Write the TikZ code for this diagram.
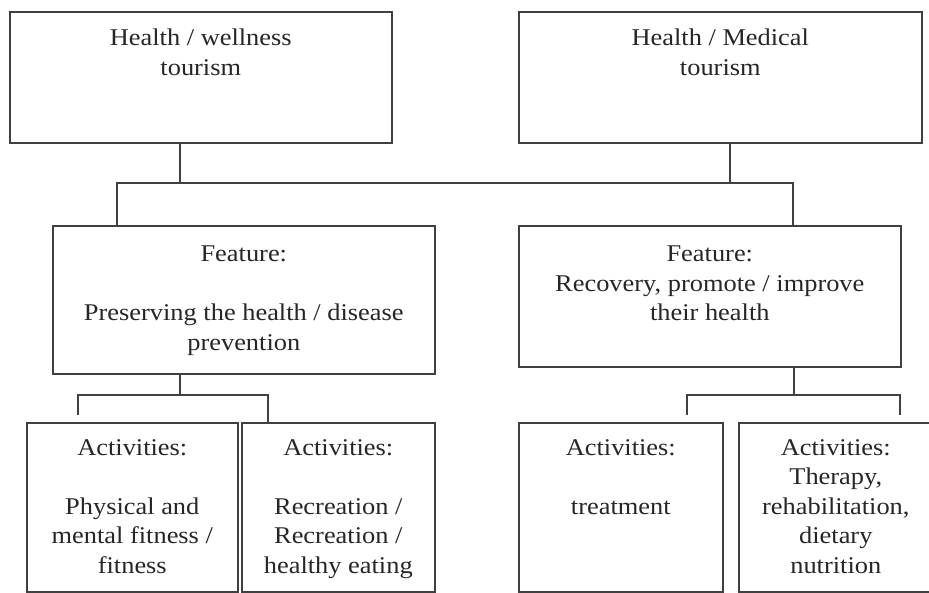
\documentclass[tikz,border=0pt]{standalone}
\usepackage{fontspec}
\setmainfont{Liberation Serif}[FakeStretch=1.1]
\usetikzlibrary{positioning}

\tikzset{
    box/.style={draw=black!75, line width=1.6pt, anchor=north west, inner sep=0pt},
    txt/.style={align=center, inner sep=0pt, text=black!85, font=\fontsize{24}{29.5}\selectfont},
    link/.style={draw=black!75, line width=1.6pt},
}

\begin{document}
\begin{tikzpicture}[x=1pt, y=-1pt]
            \useasboundingbox (0,0) rectangle (929,593);
            \clip (0,0) rectangle (929,593);

            % Top row - tourism types
            \node[box, minimum width=382pt, minimum height=131pt] (hw) at (9,11) {};
            \node[box, minimum width=403pt, minimum height=131pt] (hm) at (518,11) {};
            \node[txt, below=18pt of hw.north] (hwtxt) {Health / wellness\\tourism};
            \node[txt, below=18pt of hm.north] (hmtxt) {Health / Medical\\tourism};

            % Middle row - features
            \node[box, minimum width=382pt, minimum height=148pt] (fl) at (52,225) {};
            \node[box, minimum width=382pt, minimum height=141pt] (fr) at (518,225) {};
            \node[txt, below=21pt of fl.north] (fltxt) {Feature:\\[29.5pt]Preserving the health / disease\\prevention};
            \node[txt, below=21pt of fr.north] (frtxt) {Feature:\\Recovery, promote / improve\\their health};

            % Bottom row - activities
            \node[box, minimum width=211pt, minimum height=169pt] (a1) at (26,422) {};
            \node[box, minimum width=193pt, minimum height=169pt] (a2) at (241,422) {};
            \node[box, minimum width=204pt, minimum height=169pt] (a3) at (518,422) {};
            \node[box, minimum width=200pt, minimum height=169pt] (a4) at (738,422) {};
            \node[txt, below=17pt of a1.north] (a1txt) {Activities:\\[29.5pt]Physical and\\mental fitness /\\fitness};
            \node[txt, below=17pt of a2.north] (a2txt) {Activities:\\[29.5pt]Recreation /\\Recreation /\\healthy eating};
            \node[txt, below=17pt of a3.north] (a3txt) {Activities:\\[29.5pt]treatment};
            \node[txt, below=17pt of a4.north, xshift=-3pt] (a4txt) {Activities:\\Therapy,\\rehabilitation,\\dietary\\nutrition};

            % Connectors - top bus
            \coordinate (jL) at (180,183);
            \coordinate (jR) at (730,183);
            \coordinate (bL) at (117,183);
            \coordinate (bR) at (793,183);
            \draw[link] (hw.south -| jL) -- (jL);
            \draw[link] (hm.south -| jR) -- (jR);
            \draw[link] (fl.north -| bL) -- (bL) -- (bR) -- (fr.north -| bR);

            % Connectors - left bus
            \coordinate (kL) at (180,395);
            \coordinate (cL1) at (78,395);
            \coordinate (cL2) at (268,395);
            \draw[link] (fl.south -| kL) -- (kL);
            \draw[link, shorten <=7pt] (a1.north -| cL1) -- (cL1) -- (cL2) -- (a2.north -| cL2);

            % Connectors - right bus
            \coordinate (kR) at (794,395);
            \coordinate (cR1) at (687,395);
            \coordinate (cR2) at (900,395);
            \draw[link] (fr.south -| kR) -- (kR);
            \draw[link, shorten <=7pt, shorten >=7pt] (a3.north -| cR1) -- (cR1) -- (cR2) -- (a4.north -| cR2);
\end{tikzpicture}
\end{document}
